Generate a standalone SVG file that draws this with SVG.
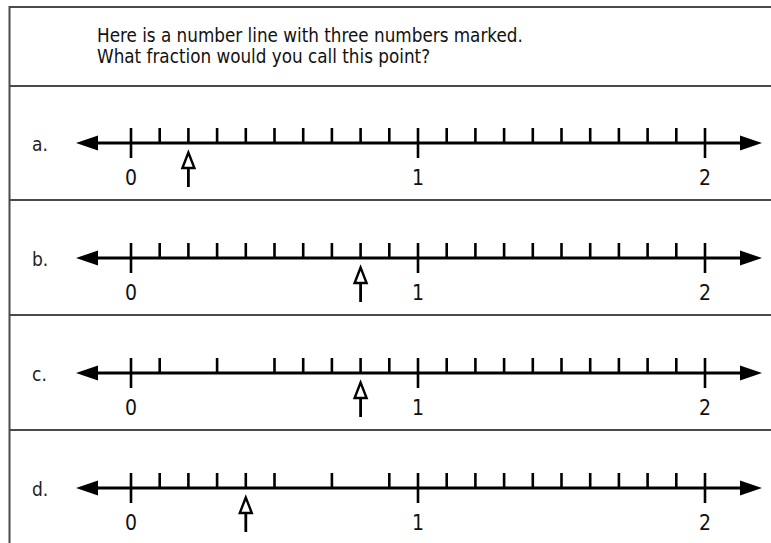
<svg xmlns="http://www.w3.org/2000/svg" xmlns:xlink="http://www.w3.org/1999/xlink" width="771" height="543" viewBox="0 0 771 543">
<style>
.frame{fill:none;stroke:#4a4a4a;stroke-width:2}
.axis{fill:none;stroke:#000;stroke-width:3}
.tick{fill:none;stroke:#000;stroke-width:2.6}
.head{fill:#000;stroke:none}
.ptr{fill:#fff;stroke:#000;stroke-width:2.4;stroke-linejoin:miter}
.ptrstem{stroke:#000;stroke-width:2.8}
.num{font-family:"DejaVu Sans Condensed","DejaVu Sans",Tahoma,sans-serif;font-size:21px;fill:#111;text-anchor:middle}
.lab{font-family:"DejaVu Sans Condensed","DejaVu Sans",Tahoma,sans-serif;font-size:19px;fill:#222}
.q{font-family:"DejaVu Sans Condensed","DejaVu Sans",Tahoma,sans-serif;font-size:18.7px;fill:#111}
</style>
<defs>
<g id="base">
<path class="axis" d="M92 0H745"/>
<polygon class="head" points="76,0 98,-7.5 98,7.5"/>
<polygon class="head" points="762,0 740,-7.5 740,7.5"/>
<path class="tick" d="M131 -15V15M418 -15V15M705 -15V15"/>
<path class="tick" d="M446.7 -15V0M475.4 -15V0M504.1 -15V0M532.8 -15V0M561.5 -15V0M590.2 -15V0M618.9 -15V0M647.6 -15V0M676.3 -15V0"/>
<text class="num" x="131" y="42">0</text>
<text class="num" x="418" y="42">1</text>
<text class="num" x="705" y="42">2</text>
</g>
<g id="pointer">
<path class="ptrstem" d="M0 25V44"/>
<polygon class="ptr" points="0,9.5 -6,25 6,25"/>
</g>
</defs>
<rect width="771" height="543" fill="#fff"/>
<g id="frame">
<path class="frame" d="M9.5 543V7H771M9.5 86H771M9.5 200H771M9.5 315H771M9.5 430H771"/>
</g>
<g id="question">
<text class="q" x="97" y="42">Here is a number line with three numbers marked.</text>
<text class="q" x="97" y="63">What fraction would you call this point?</text>
</g>
<g id="row-a" transform="translate(0,143)">
<text class="lab" x="32" y="8">a.</text>
<use xlink:href="#base"/>
<path class="tick" d="M159.7 -15V0M188.4 -15V0M217.1 -15V0M245.8 -15V0M274.5 -15V0M303.2 -15V0M331.9 -15V0M360.6 -15V0M389.3 -15V0"/>
<use xlink:href="#pointer" x="188.4"/>
</g>
<g id="row-b" transform="translate(0,258)">
<text class="lab" x="32" y="8">b.</text>
<use xlink:href="#base"/>
<path class="tick" d="M159.7 -15V0M188.4 -15V0M217.1 -15V0M245.8 -15V0M274.5 -15V0M303.2 -15V0M331.9 -15V0M360.6 -15V0M389.3 -15V0"/>
<use xlink:href="#pointer" x="360.6"/>
</g>
<g id="row-c" transform="translate(0,373)">
<text class="lab" x="32" y="8">c.</text>
<use xlink:href="#base"/>
<path class="tick" d="M159.7 -15V0M217.1 -15V0M274.5 -15V0M303.2 -15V0M331.9 -15V0M360.6 -15V0M389.3 -15V0"/>
<use xlink:href="#pointer" x="360.6"/>
</g>
<g id="row-d" transform="translate(0,488)">
<text class="lab" x="32" y="8">d.</text>
<use xlink:href="#base"/>
<path class="tick" d="M159.7 -15V0M188.4 -15V0M217.1 -15V0M245.8 -15V0M274.5 -15V0M331.9 -15V0M389.3 -15V0"/>
<use xlink:href="#pointer" x="245.8"/>
</g>
<g id="connectors"/>
</svg>
